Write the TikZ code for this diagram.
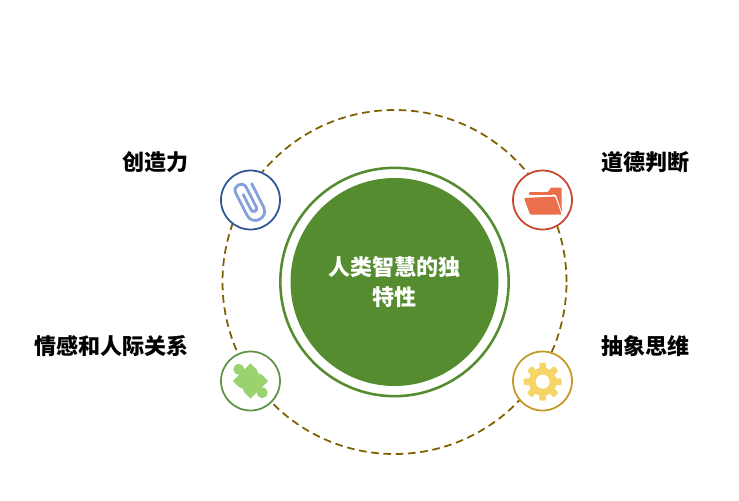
\documentclass[tikz,border=0pt]{standalone}
\usepackage{fontspec}
\setmainfont{Noto Sans CJK SC}
\usepackage{xcolor}
\usetikzlibrary{positioning}
\definecolor{hubgreen}{HTML}{568C30}
\definecolor{ringbrown}{HTML}{7F6000}
\definecolor{clipblue}{HTML}{2F5597}
\definecolor{clipfill}{HTML}{86A0DC}
\definecolor{folderred}{HTML}{C9452B}
\definecolor{folderfill}{HTML}{E9704A}
\definecolor{puzzleline}{HTML}{5E9445}
\definecolor{puzzlefill}{HTML}{9AD26E}
\definecolor{gearline}{HTML}{C49A22}
\definecolor{gearfill}{HTML}{F6D568}

\begin{document}
\begin{tikzpicture}[
  x=0.03cm, y=-0.03cm,
  font=\fontsize{18.8pt}{26pt}\selectfont\bfseries,
  badge/.style={draw, circle, fill=white, line width=1.5pt, minimum size=1.77cm, inner sep=0pt},
  lbl/.style={text=black, inner sep=0pt},
]
\path[use as bounding box] (0,0) rectangle (739,500);
\node[draw=ringbrown, circle, dashed, dash pattern=on 6.5pt off 4pt, line width=1.5pt, minimum size=10.32cm, inner sep=0pt] (ring) at (394.5,282) {};
\node[draw=hubgreen, circle, line width=2.2pt, minimum size=6.85cm, inner sep=0pt] (halo) at (394.5,282) {};
\node[circle, fill=hubgreen, minimum size=6.24cm, inner sep=0pt] (hub) at (394.5,282) {};
\node[lbl, text=white] (hubtext) at (394.5,284.5) {\begin{tabular}{@{}c@{}}人类智慧的独\\特性\end{tabular}};

\node[badge, draw=clipblue] (clip) at (250.5,200) {};
\node[badge, draw=folderred] (folder) at (542.5,200) {};
\node[badge, draw=puzzleline] (puzzle) at (250.5,381) {};
\node[badge, draw=gearline] (gear) at (542.5,381) {};

\node[lbl, anchor=east] (t1) at (188.5,162) {创造力};
\node[lbl, anchor=east] (t2) at (188.5,346) {情感和人际关系};
\node[lbl, anchor=west] (t3) at (601,162) {道德判断};
\node[lbl, anchor=west] (t4) at (601,346) {抽象思维};

\begin{scope}[shift={(250.5,200)}, rotate=27]
\draw[clipfill, line width=2.4pt, line cap=round]
  (8.5,-14) -- (8.5,12) .. controls (8.5,24.5) and (-10,24.5) .. (-10,12) -- (-10,-13)
  .. controls (-10,-21) and (2,-21) .. (2,-13) -- (2,9)
  .. controls (2,13) and (-4,13) .. (-4,9) -- (-4,-8);
\end{scope}

\fill[folderfill, rounded corners=0.8pt] (529,195) -- (529,192) -- (548,192) -- (551,187.5) -- (561.5,187.5) -- (561.8,212) -- (556,194.7) -- cycle;
\fill[folderfill, rounded corners=0.8pt] (524,198) -- (555,196.5) -- (561.7,214.5) -- (530,214.5) -- cycle;

\begin{scope}[shift={(250.5,381)}, rotate=45]
\fill[puzzlefill] (-12.5,-12.5) rectangle (12.5,12.5);
\fill[puzzlefill] (0,-16.5) circle (5.5);
\fill[puzzlefill] (0,16.5) circle (5.5);
\fill[white] (-16,0) circle (5);
\fill[white] (16,0) circle (5);
\end{scope}

\begin{scope}[shift={(542.7,381.7)}]
\fill[gearfill] (0,0) circle (14);
\foreach \ang in {0,45,...,315}
  \fill[gearfill, rotate=\ang, rounded corners=1pt] (10,-3.4) rectangle (19,3.4);
\fill[white] (0,0) circle (7);
\end{scope}
\end{tikzpicture}
\end{document}
